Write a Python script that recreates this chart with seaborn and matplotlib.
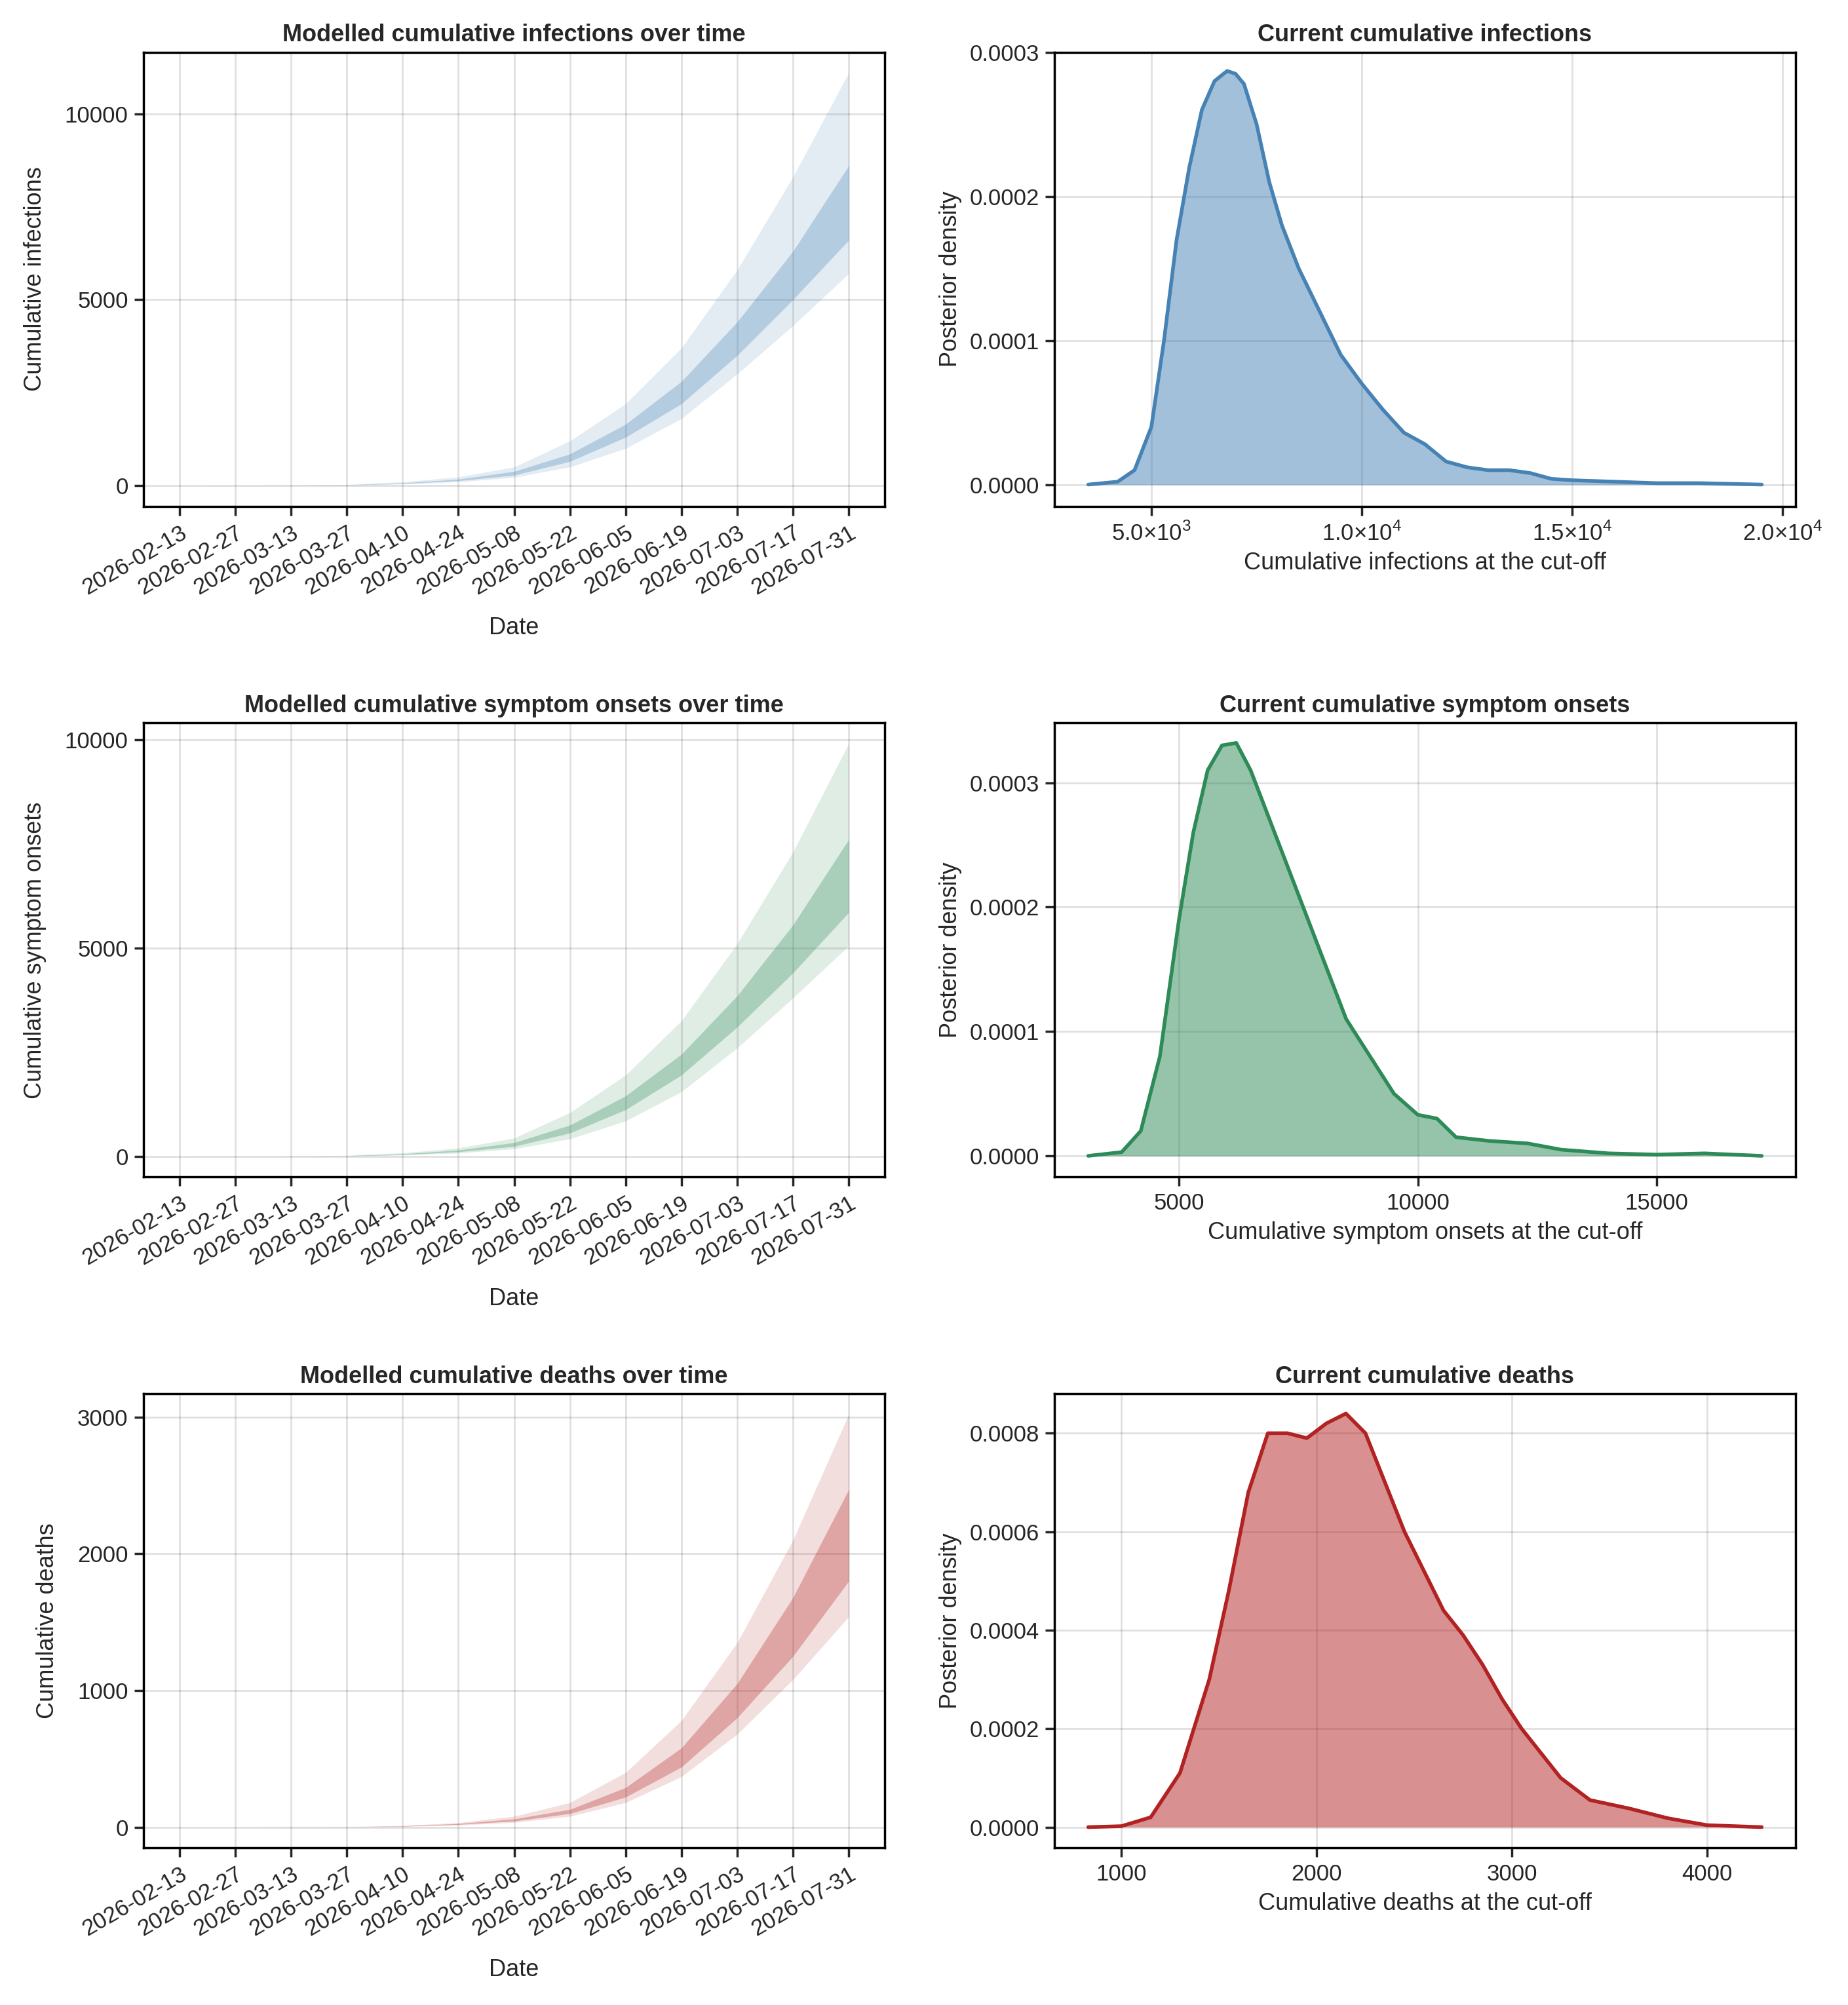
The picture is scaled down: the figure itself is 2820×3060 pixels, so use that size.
import numpy as np
import pandas as pd
import seaborn as sns
import matplotlib
matplotlib.use("Agg")
import matplotlib.pyplot as plt
from matplotlib.ticker import FuncFormatter

sns.set_theme(style="ticks")
plt.rcParams['font.family'] = ['Liberation Sans', 'DejaVu Sans']
plt.rcParams['mathtext.fontset'] = 'custom'
plt.rcParams['mathtext.rm'] = 'Liberation Sans'

# dates (every 14 days)
dates = pd.to_datetime(["2026-02-13", "2026-02-27", "2026-03-13", "2026-03-27", "2026-04-10",
                        "2026-04-24", "2026-05-08", "2026-05-22", "2026-06-05", "2026-06-19",
                        "2026-07-03", "2026-07-17", "2026-07-31"])

# cumulative quantiles: outer low, inner low, inner high, outer high
inf_q05 = [0, 0, 2, 10, 40, 100, 220, 500, 1000, 1800, 3000, 4300, 5700]
inf_q25 = [0, 0, 3, 15, 50, 130, 280, 650, 1300, 2200, 3500, 5000, 6600]
inf_q75 = [0, 1, 5, 20, 70, 170, 380, 850, 1650, 2800, 4400, 6300, 8600]
inf_q95 = [0, 1, 8, 30, 100, 230, 500, 1200, 2200, 3700, 5800, 8300, 11100]

ons_q05 = [0, 0, 1, 8, 30, 80, 180, 420, 850, 1550, 2600, 3800, 5050]
ons_q25 = [0, 0, 2, 12, 40, 110, 240, 560, 1120, 1950, 3100, 4400, 5850]
ons_q75 = [0, 1, 4, 17, 60, 150, 330, 750, 1450, 2450, 3850, 5550, 7600]
ons_q95 = [0, 1, 6, 25, 85, 200, 440, 1050, 1950, 3250, 5100, 7300, 9900]

dth_q05 = [0, 0, 0, 1, 5, 15, 35, 80, 180, 370, 680, 1080, 1540]
dth_q25 = [0, 0, 0, 2, 7, 20, 45, 100, 220, 440, 800, 1250, 1800]
dth_q75 = [0, 0, 1, 3, 9, 26, 60, 130, 290, 580, 1050, 1680, 2470]
dth_q95 = [0, 0, 1, 4, 12, 33, 80, 180, 400, 780, 1350, 2100, 3020]

# posterior densities at the cut-off
inf_x = [3500, 4200, 4600, 5000, 5300, 5600, 5900, 6200, 6500, 6800, 7000, 7200, 7500, 7800,
         8100, 8500, 9000, 9500, 10000, 10500, 11000, 11500, 12000, 12500, 13000, 13500,
         14000, 14500, 15000, 16000, 17000, 18000, 19500]
inf_d = [0, 0.000002, 0.00001, 0.00004, 0.0001, 0.00017, 0.00022, 0.00026, 0.00028, 0.000287,
         0.000285, 0.000278, 0.00025, 0.00021, 0.00018, 0.00015, 0.00012, 0.00009, 0.00007,
         0.000052, 0.000036, 0.000028, 0.000016, 0.000012, 0.00001, 0.00001, 0.000008,
         0.000004, 0.000003, 0.000002, 0.000001, 0.000001, 0]

ons_x = [3100, 3800, 4200, 4600, 5000, 5300, 5600, 5900, 6200, 6500, 6800, 7200, 7600, 8000,
         8500, 9000, 9500, 10000, 10400, 10800, 11500, 12300, 13000, 14000, 15000, 16000, 17200]
ons_d = [0, 0.000003, 0.00002, 0.00008, 0.00019, 0.00026, 0.00031, 0.00033, 0.000332,
         0.00031, 0.00028, 0.00024, 0.0002, 0.00016, 0.00011, 0.00008, 0.00005, 0.000033,
         0.00003, 0.000015, 0.000012, 0.00001, 0.000005, 0.000002, 0.000001, 0.000002, 0]

dth_x = [830, 1000, 1150, 1300, 1450, 1550, 1650, 1750, 1850, 1950, 2050, 2150, 2250, 2350,
         2450, 2550, 2650, 2750, 2850, 2950, 3050, 3150, 3250, 3400, 3600, 3800, 4000, 4280]
dth_d = [0, 0.000002, 0.00002, 0.00011, 0.0003, 0.00048, 0.00068, 0.0008, 0.0008, 0.00079,
         0.00082, 0.00084, 0.0008, 0.0007, 0.0006, 0.00052, 0.00044, 0.00039, 0.00033,
         0.00026, 0.0002, 0.00015, 0.0001, 0.000055, 0.000038, 0.000018, 0.000004, 0]

rows = [
    ("infections", "#4682B4", (inf_q05, inf_q25, inf_q75, inf_q95), (inf_x, inf_d)),
    ("symptom onsets", "#2E8B57", (ons_q05, ons_q25, ons_q75, ons_q95), (ons_x, ons_d)),
    ("deaths", "#B22222", (dth_q05, dth_q25, dth_q75, dth_q95), (dth_x, dth_d)),
]


def sci(v, pos):
    if v == 0:
        return "0"
    e = int(np.floor(np.log10(abs(v))))
    return r"$%.1f{\times}10^{%d}$" % (v / 10 ** e, e)


fig, axes = plt.subplots(3, 2, figsize=(14.1, 15.3), dpi=200)

for i, (name, col, q, dens) in enumerate(rows):
    ax = axes[i, 0]
    ax.fill_between(dates, q[0], q[3], color=col, alpha=0.15, lw=0)
    ax.fill_between(dates, q[1], q[2], color=col, alpha=0.3, lw=0)
    ax.set_xticks(dates)
    ax.set_xticklabels([d.strftime("%Y-%m-%d") for d in dates], rotation=30, ha="right",
                       rotation_mode="anchor")
    ax.set_xlim(dates[0] - pd.Timedelta(days=9), dates[-1] + pd.Timedelta(days=9))
    ax.set_title(f"Modelled cumulative {name} over time", fontweight="bold", fontsize=13)
    ax.set_xlabel("Date", fontsize=13, labelpad=10)
    ax.set_ylabel(f"Cumulative {name}", fontsize=13, labelpad=10)

    ax2 = axes[i, 1]
    df = pd.DataFrame({"x": dens[0], "d": dens[1]})
    ax2.fill_between(df["x"], 0, df["d"], color=col, alpha=0.5, lw=0)
    sns.lineplot(data=df, x="x", y="d", color=col, lw=2, ax=ax2)
    ax2.set_title(f"Current cumulative {name}", fontweight="bold", fontsize=13)
    ax2.set_xlabel(f"Cumulative {name} at the cut-off", fontsize=13)
    ax2.set_ylabel("Posterior density", fontsize=13)
    ax2.yaxis.set_major_formatter(FuncFormatter(lambda v, p: f"{v:.4f}"))

axes[0, 1].set_xticks([5000, 10000, 15000, 20000])
axes[0, 1].xaxis.set_major_formatter(FuncFormatter(sci))
axes[0, 1].set_xlim(2700, 20300)
axes[0, 1].set_yticks([0, 0.0001, 0.0002, 0.0003])
axes[0, 1].set_ylim(-0.000015, 0.0003)
axes[1, 1].set_xticks([5000, 10000, 15000])
axes[1, 1].set_yticks([0, 0.0001, 0.0002, 0.0003])
axes[1, 1].set_ylim(-0.000017, 0.000348)
axes[2, 1].set_xticks([1000, 2000, 3000, 4000])
axes[2, 1].set_ylim(-0.000042, 0.00088)
axes[0, 0].set_yticks([0, 5000, 10000])
axes[1, 0].set_yticks([0, 5000, 10000])
axes[2, 0].set_yticks([0, 1000, 2000, 3000])

for ax in axes.flat:
    ax.grid(True, color="#000000", alpha=0.12, lw=1)
    ax.tick_params(labelsize=12.5, length=5)
    for s in ax.spines.values():
        s.set_visible(True)
        s.set_color("black")

fig.tight_layout(h_pad=2.5, w_pad=2.5)
fig.savefig("out.png", dpi=200)
